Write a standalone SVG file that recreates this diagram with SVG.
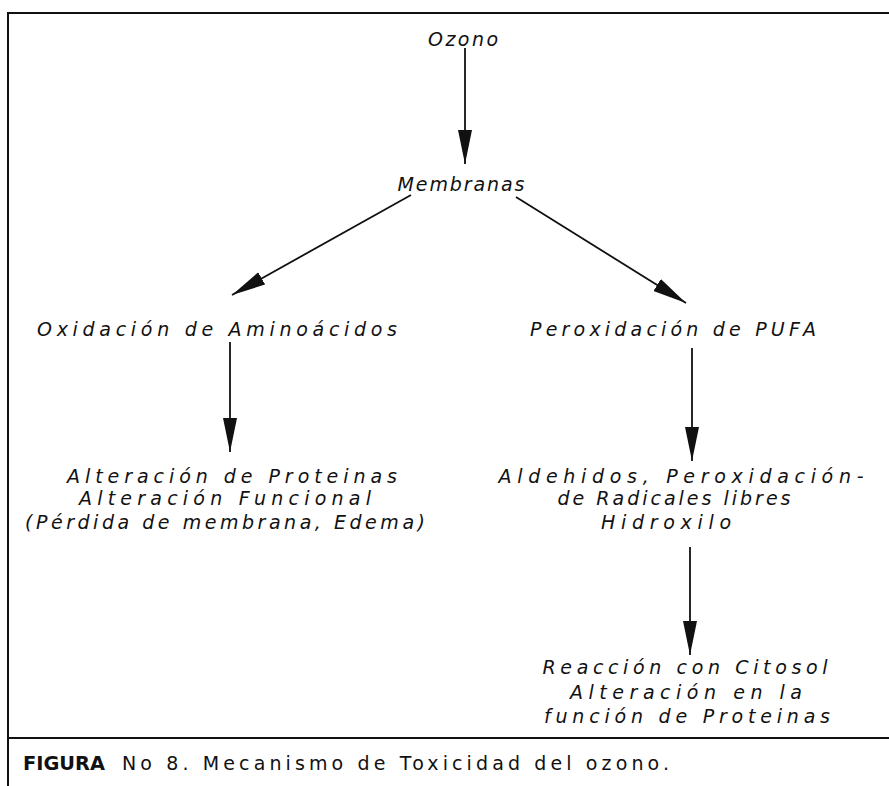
<svg xmlns="http://www.w3.org/2000/svg" width="889" height="786" viewBox="0 0 889 786">
<style>
.t{font-family:"DejaVu Sans","Liberation Sans",sans-serif;font-style:italic;font-size:19px;fill:#111;text-anchor:middle}
.c{font-family:"DejaVu Sans","Liberation Sans",sans-serif;font-size:19px;fill:#111}
.ln{stroke:#111;stroke-width:1.8;fill:none}
.fr{stroke:#111;stroke-width:2;fill:none}
</style>
<defs>
<marker id="ah" markerUnits="userSpaceOnUse" markerWidth="36" markerHeight="16" refX="34" refY="8" orient="auto">
<path d="M0,1 L34,8 L0,15 z" fill="#111"/>
</marker>
</defs>
<rect width="889" height="786" fill="#fff"/>
<g id="frame">
<line class="fr" x1="8" y1="13" x2="889" y2="13"/>
<line class="fr" x1="8" y1="12" x2="8" y2="786"/>
<line class="fr" x1="8" y1="738" x2="889" y2="738" stroke-width="2.5"/>
</g>
<g id="connectors">
<line class="ln" x1="465" y1="48" x2="465" y2="164" marker-end="url(#ah)"/>
<line class="ln" x1="411" y1="195" x2="232" y2="295" marker-end="url(#ah)"/>
<line class="ln" x1="516" y1="197" x2="686" y2="303" marker-end="url(#ah)"/>
<line class="ln" x1="230" y1="342" x2="230" y2="452" marker-end="url(#ah)"/>
<line class="ln" x1="692" y1="348" x2="692" y2="461" marker-end="url(#ah)"/>
<line class="ln" x1="690" y1="547" x2="690" y2="655" marker-end="url(#ah)"/>
</g>
<g id="ozono"><text class="t" x="463" y="46" textLength="70" lengthAdjust="spacing">Ozono</text></g>
<g id="membranas"><text class="t" x="461" y="191" textLength="127" lengthAdjust="spacing">Membranas</text></g>
<g id="oxidacion"><text class="t" x="217" y="336" textLength="360" lengthAdjust="spacing">Oxidación de Aminoácidos</text></g>
<g id="peroxidacion"><text class="t" x="673" y="336" textLength="286" lengthAdjust="spacing">Peroxidación de PUFA</text></g>
<g id="alteracion-proteinas">
<text class="t" x="232" y="483" textLength="330" lengthAdjust="spacing">Alteración de Proteinas</text>
<text class="t" x="225" y="505" textLength="292" lengthAdjust="spacing">Alteración Funcional</text>
<text class="t" x="225" y="529" textLength="400" lengthAdjust="spacing">(Pérdida de membrana, Edema)</text>
</g>
<g id="aldehidos">
<text class="t" x="681" y="483" textLength="365" lengthAdjust="spacing">Aldehidos, Peroxidación-</text>
<text class="t" x="674" y="505" textLength="233" lengthAdjust="spacing">de Radicales libres</text>
<text class="t" x="666" y="529" textLength="130" lengthAdjust="spacing">Hidroxilo</text>
</g>
<g id="reaccion">
<text class="t" x="685" y="674" textLength="285" lengthAdjust="spacing">Reacción con Citosol</text>
<text class="t" x="686" y="699" textLength="232" lengthAdjust="spacing">Alteración en la</text>
<text class="t" x="687" y="723" textLength="286" lengthAdjust="spacing">función de Proteinas</text>
</g>
<g id="caption">
<text class="c" x="23" y="770" font-weight="bold" textLength="82" lengthAdjust="spacingAndGlyphs">FIGURA</text>
<text class="c" x="122" y="770" textLength="547" lengthAdjust="spacing">No 8. Mecanismo de Toxicidad del ozono.</text>
</g>
</svg>
